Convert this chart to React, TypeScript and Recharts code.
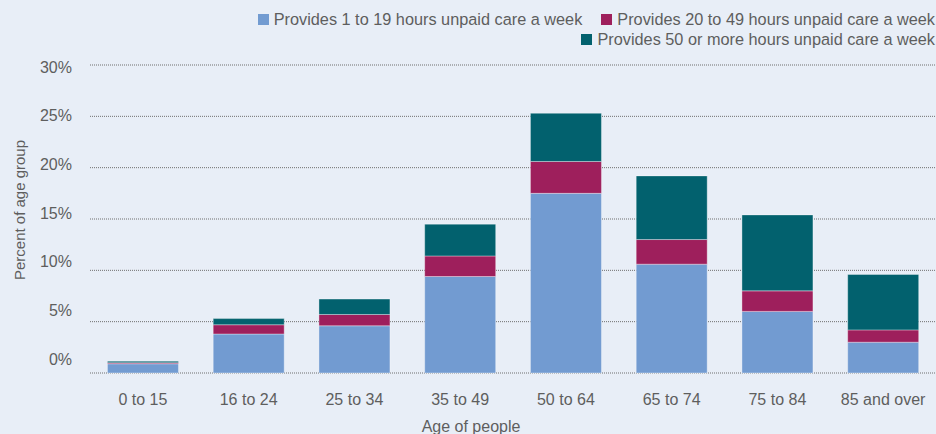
import { Bar, BarChart, CartesianGrid, XAxis, YAxis } from "recharts"

const ageGroups = ["0 to 15", "16 to 24", "25 to 34", "35 to 49", "50 to 64", "65 to 74", "75 to 84", "85 and over"]
const hours1to19 = [0.9, 3.8, 4.6, 9.4, 17.5, 10.6, 6.0, 3.0]
const hours20to49 = [0.1, 0.9, 1.1, 2.0, 3.1, 2.4, 2.0, 1.2]
const hours50plus = [0.15, 0.6, 1.5, 3.1, 4.7, 6.2, 7.4, 5.4]
const yTicks = [0, 5, 10, 15, 20, 25, 30]

const series = [
  { key: "low", name: "Provides 1 to 19 hours unpaid care a week", color: "#729BD1", values: hours1to19 },
  { key: "mid", name: "Provides 20 to 49 hours unpaid care a week", color: "#9E1F5C", values: hours20to49 },
  { key: "high", name: "Provides 50 or more hours unpaid care a week", color: "#02616E", values: hours50plus },
]

const data = ageGroups.map((age, i) => ({
  age,
  low: hours1to19[i],
  mid: hours20to49[i],
  high: hours50plus[i],
}))

const TOP = 65
const FONT = "'Liberation Sans', Arial, Helvetica, sans-serif"
const TEXT = "#5e5e5e"

// the source's y labels sit on a slightly tighter spacing than its gridlines
function YTick({ x, y, payload }: any) {
  const labelY = TOP + 7.8 + (y - TOP) * 0.948
  return (
    <text x={x} y={labelY} textAnchor="end" fill={TEXT} fontSize={16} fontFamily={FONT}>
      {`${payload.value}%`}
    </text>
  )
}

function XTick({ x, y, payload }: any) {
  return (
    <text x={x} y={y + 31.5} textAnchor="middle" fill={TEXT} fontSize={16} fontFamily={FONT}>
      {payload.value}
    </text>
  )
}

function LegendBox() {
  return (
    <div
      style={{
        position: "absolute",
        top: 9,
        right: 1,
        width: 700,
        display: "flex",
        flexWrap: "wrap",
        justifyContent: "flex-end",
        columnGap: 19,
        fontFamily: FONT,
        fontSize: 16.3,
        lineHeight: "20px",
        color: TEXT,
        whiteSpace: "nowrap",
      }}
    >
      {series.map((s) => (
        <div key={s.key} style={{ display: "flex", alignItems: "center" }}>
          <span style={{ width: 11, height: 11, background: s.color, marginRight: 5, display: "inline-block" }} />
          <span>{s.name}</span>
        </div>
      ))}
    </div>
  )
}

export default function App() {
  return (
    <div
      style={{
        position: "fixed",
        top: 0,
        left: 0,
        width: 936,
        height: 434,
        overflow: "hidden",
        background: "#E8EEF7",
      }}
    >
      <BarChart
        width={936}
        height={434}
        data={data}
        margin={{ top: TOP, right: 0, bottom: 0, left: 0 }}
        barCategoryGap="16.5%"
      >
        <CartesianGrid vertical={false} stroke="#6f6f6f" strokeDasharray="1 1" />
        <XAxis
          dataKey="age"
          height={61}
          axisLine={false}
          tickLine={false}
          tickSize={0}
          tickMargin={0}
          tick={<XTick />}
          interval={0}
          label={{
            content: ({ viewBox }: any) => (
              <text
                x={viewBox.x + viewBox.width / 2 - 42}
                y={431.5}
                textAnchor="middle"
                fill={TEXT}
                fontSize={16}
                fontFamily={FONT}
              >
                Age of people
              </text>
            ),
          }}
        />
        <YAxis
          width={90}
          domain={[0, 30]}
          ticks={yTicks}
          axisLine={false}
          tickLine={false}
          tickSize={0}
          tickMargin={18}
          tick={<YTick />}
          label={{
            content: () => (
              <text
                x={24.5}
                y={210}
                transform="rotate(-90 24.5 210)"
                textAnchor="middle"
                fill={TEXT}
                fontSize={15}
                fontFamily={FONT}
              >
                Percent of age group
              </text>
            ),
          }}
        />
        {series.map((s) => (
          <Bar
            key={s.key}
            dataKey={s.key}
            name={s.name}
            stackId="care"
            fill={s.color}
            stroke="rgba(255,255,255,0.35)"
            strokeWidth={1}
            isAnimationActive={false}
          />
        ))}
      </BarChart>
      <LegendBox />
    </div>
  )
}
